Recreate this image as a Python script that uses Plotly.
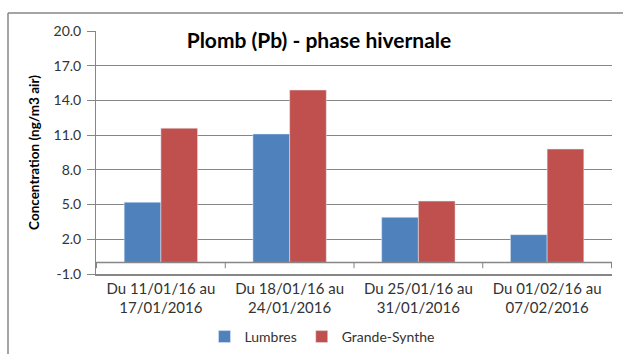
import plotly.graph_objects as go

# Weekly sampling periods and lead concentrations (ng/m3 air)
periods = [
    "Du 11/01/16 au<br>17/01/2016",
    "Du 18/01/16 au<br>24/01/2016",
    "Du 25/01/16 au<br>31/01/2016",
    "Du 01/02/16 au<br>07/02/2016",
]
lumbres = [5.2, 11.1, 3.9, 2.4]
grande_synthe = [11.6, 14.9, 5.3, 9.8]

y_ticks = [-1.0, 2.0, 5.0, 8.0, 11.0, 14.0, 17.0, 20.0]

W, H = 623, 354
L, R, T, B = 96, 11, 31, 80
pw, ph = W - L - R, H - T - B

def px_x(px):
    return (px - L) / pw

def px_y(py):
    return (H - B - py) / ph

grid = "#868686"
font = "Lato, 'Open Sans', sans-serif"
txt = "#333333"

fig = go.Figure()
fig.add_trace(go.Bar(name="Lumbres", x=periods, y=lumbres, marker_color="#4F81BD"))
fig.add_trace(go.Bar(name="Grande-Synthe", x=periods, y=grande_synthe, marker_color="#C0504D"))

shapes = []
# category axis crossing at zero, with dividers between groups
shapes.append(dict(type="line", xref="paper", yref="y", x0=0, x1=1, y0=0, y1=0,
                   line=dict(color=grid, width=1.5)))
for i in range(len(periods) + 1):
    shapes.append(dict(type="line", xref="x", yref="y", x0=i - 0.5, x1=i - 0.5,
                       y0=0, y1=-0.5, line=dict(color=grid, width=1)))
# chart frame
shapes.append(dict(type="line", xref="paper", yref="paper",
                   x0=px_x(8), x1=px_x(640), y0=px_y(13), y1=px_y(13),
                   line=dict(color=grid, width=1.5)))
shapes.append(dict(type="line", xref="paper", yref="paper",
                   x0=px_x(8), x1=px_x(8), y0=px_y(13), y1=px_y(370),
                   line=dict(color=grid, width=1.5)))

fig.update_layout(
    width=W, height=H,
    margin=dict(l=L, r=R, t=T, b=B, autoexpand=False),
    paper_bgcolor="white", plot_bgcolor="white",
    barmode="group", bargap=0.43, bargroupgap=0,
    font=dict(family=font, size=14, color=txt),
    title=dict(text="<b>Plomb (Pb) - phase hivernale</b>",
               x=px_x(319), xanchor="center", xref="paper",
               y=1 - 41 / H, yanchor="middle",
               font=dict(family=font, size=21, color="black")),
    showlegend=True,
    legend=dict(orientation="h", x=px_x(322), xanchor="center",
                y=px_y(337), yanchor="middle",
                font=dict(family=font, size=14, color=txt),
                itemwidth=30, traceorder="normal"),
    shapes=shapes,
)
fig.update_yaxes(
    range=[-1, 20], tickvals=y_ticks, ticktext=[f"{v:.1f}" for v in y_ticks],
    showgrid=True, gridcolor=grid, gridwidth=1,
    showline=True, linecolor=grid, linewidth=1,
    ticks="outside", ticklen=8, tickcolor=grid, ticklabelstandoff=3,
    zeroline=False, automargin=False,
    tickfont=dict(family=font, size=14, color=txt),
    title=dict(text="<b>Concentration (ng/m3 air)</b>", standoff=10,
               font=dict(family=font, size=13.5, color="black")),
)
fig.update_xaxes(
    showline=True, linecolor=grid, linewidth=1.5,
    ticks="", showgrid=False, automargin=False,
    tickfont=dict(family=font, size=15, color=txt),
)

fig.write_html("out.html")
